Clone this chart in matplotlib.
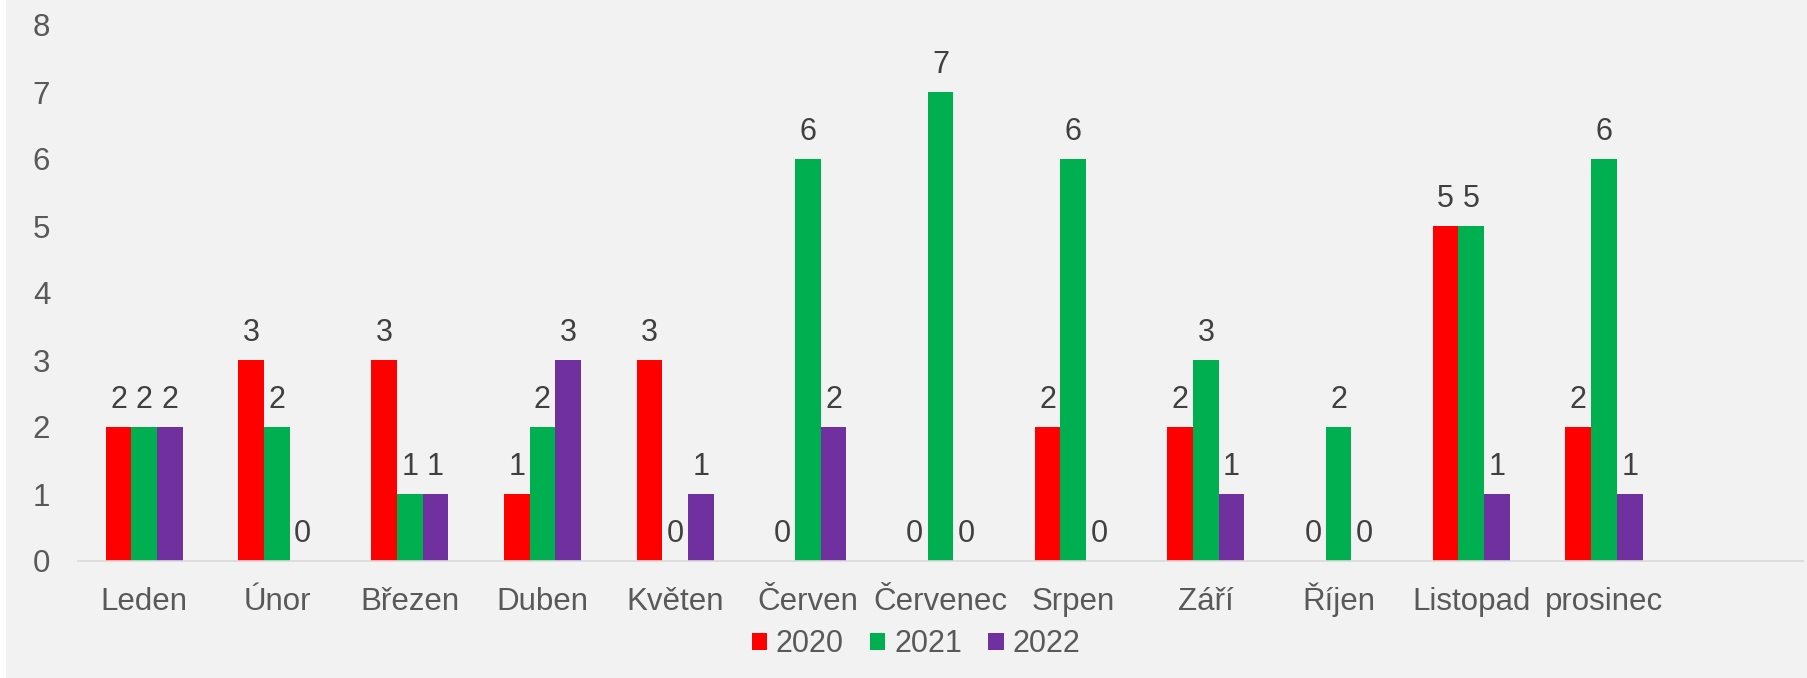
import matplotlib
matplotlib.use("Agg")
import matplotlib.pyplot as plt
import numpy as np
from matplotlib.patches import Rectangle

months = ["Leden", "Únor", "Březen", "Duben", "Květen", "Červen", "Červenec",
          "Srpen", "Září", "Říjen", "Listopad", "prosinec"]
v2020 = [2, 3, 3, 1, 3, 0, 0, 2, 2, 0, 5, 2]
v2021 = [2, 2, 1, 2, 0, 6, 7, 6, 3, 2, 5, 6]
v2022 = [2, 0, 1, 3, 1, 2, 0, 0, 1, 0, 1, 1]
series_names = ["2020", "2021", "2022"]
colors = ["#FF0000", "#00B050", "#7030A0"]

plt.rcParams['font.family'] = ['Liberation Sans', 'DejaVu Sans']
W, H = 1807, 678
fig = plt.figure(figsize=(W/100, H/100), dpi=100)
fig.patch.set_facecolor("#F2F2F2")
fig.patches.append(Rectangle((0, 0), 6/W, 1, transform=fig.transFigure,
                             facecolor="white", edgecolor="none", zorder=0))

left, right = 78/W, 1803/W
bottom, top = 1 - 561/H, 1 - 25/H
ax = fig.add_axes([left, bottom, right-left, top-bottom])
ax.set_facecolor("#F2F2F2")

n = len(months)
x = np.arange(n)
bw = 25.7/132.7
data = [v2020, v2021, v2022]
for i, (vals, c, name) in enumerate(zip(data, colors, series_names)):
    pos = x + (i-1)*bw
    ax.bar(pos, vals, width=bw, color=c, label=name, edgecolor="none", zorder=2)
    for p, v in zip(pos, vals):
        ax.annotate(str(v), (p, v), xytext=(0, 19.5/1.389), textcoords="offset points",
                    ha="center", va="baseline", fontsize=22, color="#404040")

ax.set_xlim(-0.5, n + 0.5)
ax.set_ylim(0, 8)
ax.set_yticks(range(0, 9))
ax.set_xticks(x)
ax.set_xticklabels(months)
ax.tick_params(axis="both", length=0, labelsize=22.5, labelcolor="#595959")
ax.tick_params(axis="y", pad=20)
ax.tick_params(axis="x", pad=49/1.389)
for lab in ax.get_xticklabels():
    lab.set_verticalalignment("baseline")
for s in ["top", "right", "left"]:
    ax.spines[s].set_visible(False)
ax.spines["bottom"].set_color("#D9D9D9")
ax.spines["bottom"].set_linewidth(1.2)

leg = fig.legend(loc="center", bbox_to_anchor=(916/W, 1 - 644.5/H), ncol=3,
                 frameon=False, fontsize=22, handlelength=0.5, handleheight=0.5,
                 handletextpad=0.3, columnspacing=0.85)
for t in leg.get_texts():
    t.set_color("#595959")

fig.savefig("out.png", dpi=100, facecolor=fig.get_facecolor())
